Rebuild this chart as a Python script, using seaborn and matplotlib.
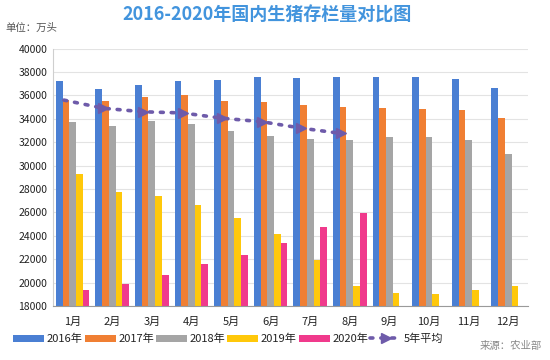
import numpy as np
import pandas as pd
import matplotlib
matplotlib.use("Agg")
import matplotlib.pyplot as plt
import seaborn as sns
from matplotlib.patches import Patch
from matplotlib.lines import Line2D

months = ["1月", "2月", "3月", "4月", "5月", "6月", "7月", "8月", "9月", "10月", "11月", "12月"]
years = ["2016年", "2017年", "2018年", "2019年", "2020年"]
v2016 = [37250, 36550, 36900, 37200, 37350, 37550, 37500, 37550, 37570, 37550, 37400, 36650]
v2017 = [35600, 35500, 35850, 36030, 35550, 35450, 35200, 35050, 34900, 34850, 34750, 34100]
v2018 = [33700, 33400, 33830, 33550, 32950, 32550, 32300, 32200, 32450, 32450, 32200, 31000]
v2019 = [29300, 27750, 27400, 26600, 25500, 24150, 21900, 19750, 19150, 19000, 19400, 19750]
v2020 = [19400, 19900, 20650, 21600, 22400, 23400, 24750, 25950]
avg5 = [35600, 34900, 34600, 34500, 34050, 33750, 33200, 32750]
avg_label = "5年平均"

colors = ["#4A7FD3", "#F07F33", "#A5A5A5", "#FFC80A", "#F03A8C"]
line_color = "#6E5BAA"

rows = []
for yname, vals in zip(years, [v2016, v2017, v2018, v2019, v2020]):
    for m, v in zip(months, vals):
        rows.append({"month": m, "year": yname, "value": v})
df = pd.DataFrame(rows)

sns.set_theme(style="white")
plt.rcParams["font.family"] = ["Noto Sans CJK SC", "DejaVu Sans"]

fig = plt.figure(figsize=(5.5, 3.6), dpi=100)
ax = fig.add_axes([0.096, 0.15, 0.864, 0.715])

sns.barplot(data=df, x="month", y="value", hue="year", order=months, hue_order=years,
            palette=colors, width=0.85, gap=0, saturation=1, ax=ax, legend=False,
            errorbar=None, linewidth=0, edgecolor="none", zorder=2)

x_avg = np.arange(len(avg5)) - 0.22
ax.plot(x_avg, avg5, linestyle=(0, (0.8, 2.2)), color=line_color, linewidth=2.6,
        dash_capstyle="round", marker=">", markersize=7, markevery=list(range(1, len(avg5))),
        markerfacecolor=line_color, markeredgecolor=line_color, zorder=3)

ax.set_ylim(18000, 40000)
ax.set_xlim(-0.5, 11.5)
ax.set_yticks(np.arange(18000, 40001, 2000))
ax.tick_params(axis="y", labelsize=7.5, colors="#222222", length=0, pad=4)
ax.yaxis.grid(True, color="#E3E3E3", linewidth=0.8, zorder=0)
ax.set_axisbelow(True)
ax.set_xlabel("")
ax.set_ylabel("")
ax.set_xticks(np.arange(12))
ax.set_xticklabels(months, fontsize=8, color="#222222")
ax.tick_params(axis="x", which="major", length=0, pad=8)
ax.set_xticks(np.arange(-0.5, 12, 1), minor=True)
ax.tick_params(axis="x", which="minor", length=4, color="#9A9A9A", width=0.8)
for s in ["top", "right"]:
    ax.spines[s].set_visible(False)
ax.spines["left"].set_color("#CFCFCF")
ax.spines["bottom"].set_color("#9A9A9A")
ax.spines["left"].set_linewidth(0.8)
ax.spines["bottom"].set_linewidth(0.8)

handles = [Patch(facecolor=c, edgecolor="none") for c in colors]
handles.append(Line2D([0], [0], linestyle=(0, (0.8, 2.2)), color=line_color, linewidth=2.6,
                      marker=">", markersize=7, markevery=[1], dash_capstyle="round"))
leg = fig.legend(handles, years + [avg_label], loc="center", bbox_to_anchor=(0.415, 0.058),
                 ncol=6, frameon=False, fontsize=8, handlelength=2.8, handleheight=0.7,
                 columnspacing=0.15, handletextpad=0.25)
for t in leg.get_texts():
    t.set_color("#222222")

fig.text(0.485, 0.958, "2016-2020年国内生猪存栏量对比图", ha="center", va="center",
         fontsize=13, color="#4294DD", fontweight="bold")
fig.text(0.01, 0.922, "单位：万头", ha="left", va="center", fontsize=7.5, color="#555555")
fig.text(0.985, 0.04, "来源：农业部", ha="right", va="center", fontsize=7.5,
         color="#888888", style="italic")

fig.savefig("out.png", dpi=100)
